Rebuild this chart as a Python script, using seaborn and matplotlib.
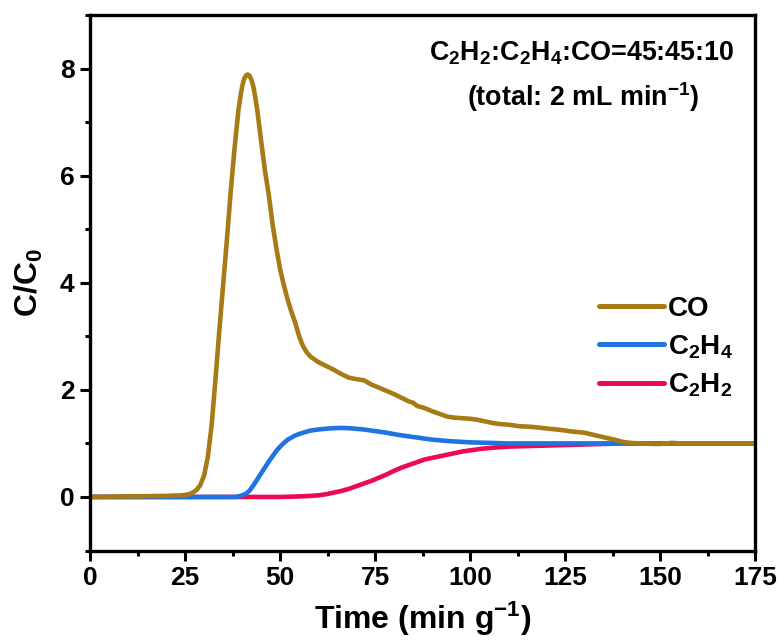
import numpy as np
import pandas as pd
import matplotlib
matplotlib.use("Agg")
import matplotlib.pyplot as plt
from matplotlib.lines import Line2D
from matplotlib.ticker import MultipleLocator
import seaborn as sns

# Breakthrough curves, C/C0 versus time (min g^-1)
co_t = [0, 10, 20, 24, 26, 27, 28, 29, 30, 31, 32, 33, 34, 35, 36, 37, 38, 39, 39.5,
        40, 40.5, 41, 41.5, 42, 42.5, 43, 43.5, 44, 45, 46, 47, 48, 49, 50, 51, 52,
        53, 54, 55, 56, 57, 58, 60, 62, 64, 66, 68, 70, 72, 74, 76, 78, 80, 82, 84,
        85, 86, 88, 90, 92, 94, 96, 98, 100, 102, 104, 106, 108, 110, 113, 116, 120,
        124, 127, 130, 133, 136, 138, 140, 142, 145, 148, 150, 153, 155, 160, 165,
        170, 175]
co_c = [0.0, 0.01, 0.02, 0.03, 0.05, 0.08, 0.13, 0.22, 0.40, 0.75, 1.35, 2.20, 3.10,
        3.95, 4.80, 5.70, 6.50, 7.20, 7.45, 7.66, 7.80, 7.87, 7.89, 7.86, 7.78, 7.65,
        7.45, 7.22, 6.65, 6.10, 5.65, 5.10, 4.65, 4.25, 3.95, 3.68, 3.45, 3.25, 3.00,
        2.82, 2.70, 2.62, 2.52, 2.45, 2.38, 2.30, 2.23, 2.20, 2.18, 2.10, 2.04, 1.98,
        1.92, 1.85, 1.78, 1.76, 1.70, 1.66, 1.60, 1.55, 1.50, 1.48, 1.47, 1.46, 1.44,
        1.41, 1.38, 1.36, 1.35, 1.32, 1.31, 1.28, 1.25, 1.22, 1.20, 1.15, 1.10, 1.07,
        1.03, 1.01, 1.00, 0.99, 0.99, 1.01, 1.00, 1.00, 1.00, 1.00, 1.00]

c2h4_t = [0, 20, 38, 39, 40, 41, 42, 43, 44, 45, 46, 47, 48, 49, 50, 51, 52, 53, 54,
          56, 58, 60, 63, 66, 69, 72, 75, 78, 81, 85, 90, 95, 100, 105, 110, 120, 150,
          175]
c2h4_c = [0.0, 0.0, 0.0, 0.01, 0.03, 0.06, 0.12, 0.22, 0.33, 0.44, 0.55, 0.66, 0.76,
          0.86, 0.94, 1.01, 1.07, 1.11, 1.15, 1.20, 1.24, 1.26, 1.28, 1.29, 1.28, 1.26,
          1.23, 1.20, 1.16, 1.12, 1.07, 1.04, 1.02, 1.01, 1.00, 1.00, 1.00, 1.00]

c2h2_t = [0, 25, 50, 55, 58, 60, 62, 64, 66, 68, 70, 72, 74, 76, 78, 80, 82, 84, 86,
          88, 90, 92, 94, 96, 98, 100, 103, 106, 110, 115, 120, 125, 130, 135, 140,
          150, 175]
c2h2_c = [0.0, 0.0, 0.0, 0.01, 0.02, 0.03, 0.05, 0.08, 0.11, 0.15, 0.20, 0.25, 0.30,
          0.36, 0.42, 0.49, 0.55, 0.60, 0.65, 0.70, 0.73, 0.76, 0.79, 0.82, 0.85, 0.87,
          0.90, 0.92, 0.94, 0.95, 0.96, 0.97, 0.98, 0.99, 1.00, 1.00, 1.00]

gases = ["C2H2", "C2H4", "CO"]
labels = {"CO": "CO", "C2H4": "C$_2$H$_4$", "C2H2": "C$_2$H$_2$"}
colors = {"CO": "#A67B16", "C2H4": "#1F74E0", "C2H2": "#EC0A50"}

df = pd.concat([
    pd.DataFrame({"t": c2h2_t, "c": c2h2_c, "gas": "C2H2"}),
    pd.DataFrame({"t": c2h4_t, "c": c2h4_c, "gas": "C2H4"}),
    pd.DataFrame({"t": co_t, "c": co_c, "gas": "CO"}),
], ignore_index=True)

sns.set_style("ticks")
plt.rcParams.update({
    "font.family": ["Liberation Sans", "DejaVu Sans"],
    "font.weight": "bold",
    "axes.labelweight": "bold",
    "text.color": "black",
    "axes.labelcolor": "black",
    "xtick.color": "black",
    "ytick.color": "black",
    "axes.edgecolor": "black",
    "mathtext.fontset": "custom",
    "mathtext.rm": "Liberation Sans:bold",
    "mathtext.it": "Liberation Sans:bold",
    "mathtext.bf": "Liberation Sans:bold",
    "mathtext.default": "rm",
    "axes.linewidth": 2.4,
})

fig = plt.figure(figsize=(7.82, 6.42), dpi=100)
ax = fig.add_axes([0.1151, 0.1425, 0.8509, 0.8341])

sns.lineplot(data=df, x="t", y="c", hue="gas", hue_order=gases, palette=colors,
             linewidth=3.3, legend=False, ax=ax, sort=False)
for ln in ax.get_lines():
    ln.set_solid_joinstyle("round")
    ln.set_solid_capstyle("round")

ax.set_xlim(0, 175)
ax.set_ylim(-1, 9)
ax.xaxis.set_major_locator(MultipleLocator(25))
ax.xaxis.set_minor_locator(MultipleLocator(12.5))
ax.yaxis.set_minor_locator(MultipleLocator(1))
ax.set_yticks([0, 2, 4, 6, 8])
ax.tick_params(which="major", direction="out", length=7, width=2.2, labelsize=19, pad=4)
ax.tick_params(which="minor", direction="out", length=3.5, width=2.2)
ax.tick_params(top=False, right=False, which="both")
for s in ax.spines.values():
    s.set_visible(True)
    s.set_linewidth(2.4)
    s.set_color("black")

ax.set_xlabel("Time (min g$^{-1}$)", fontsize=23, fontweight="bold", labelpad=7)
ax.set_ylabel("C/C$_0$", fontsize=23, fontweight="bold", labelpad=11)

ax.text(0.738, 0.916, "C$_2$H$_2$:C$_2$H$_4$:CO=45:45:10", transform=ax.transAxes,
        ha="center", va="baseline", fontsize=19.4, fontweight="bold")
ax.text(0.741, 0.830, "(total: 2 mL min$^{-1}$)", transform=ax.transAxes,
        ha="center", va="baseline", fontsize=19.4, fontweight="bold")

handles = [Line2D([], [], color=colors[g], linewidth=3.6, solid_capstyle="round")
           for g in ["CO", "C2H4", "C2H2"]]
ax.legend(handles, [labels[g] for g in ["CO", "C2H4", "C2H2"]],
          loc="center left", bbox_to_anchor=(0.748, 0.379), frameon=False,
          fontsize=20, handlelength=2.34, handletextpad=0.15, labelspacing=0.4,
          borderaxespad=0)

fig.savefig("out.png", dpi=100)
